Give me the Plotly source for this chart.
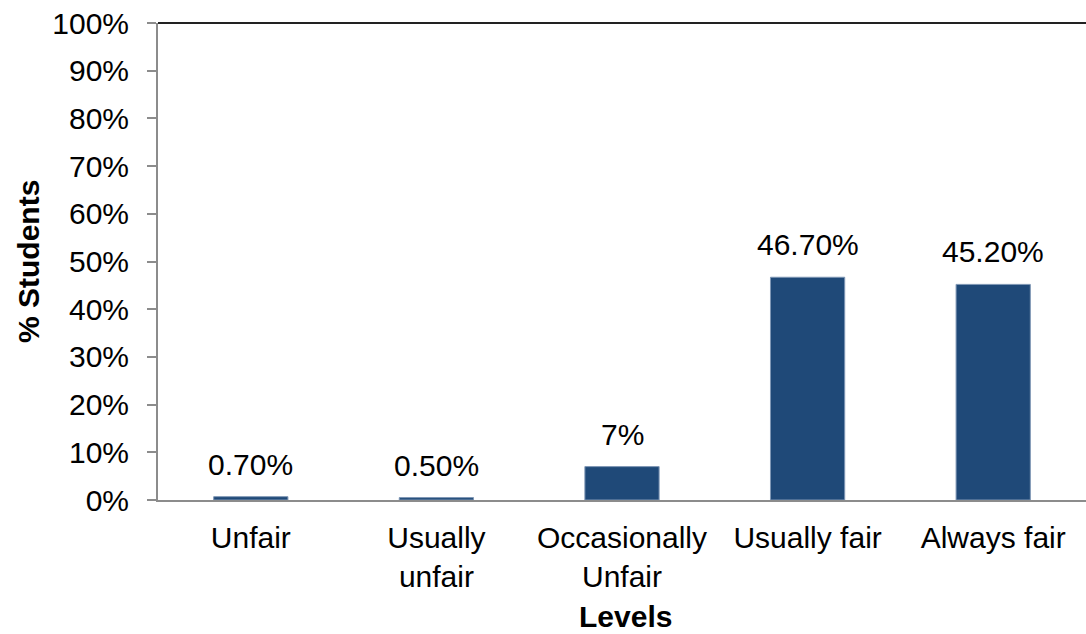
import plotly.graph_objects as go

categories = ["Unfair", "Usually<br>unfair", "Occasionally<br>Unfair", "Usually fair", "Always fair"]
values = [0.7, 0.5, 7, 46.7, 45.2]
labels = ["0.70%", "0.50%", "7%", "46.70%", "45.20%"]
tick_vals = [0, 10, 20, 30, 40, 50, 60, 70, 80, 90, 100]
tick_text = [f"{v}%" for v in tick_vals]

font = "Liberation Sans, Arial, sans-serif"
FS = 30
W, H = 1086, 634
L, T, B = 158, 23, 500
plot_w = W - L
plot_h = B - T

fig = go.Figure(go.Bar(
    x=categories, y=values,
    marker=dict(color="#1F4978", line=dict(color="#7F97B5", width=1)),
    cliponaxis=False,
))

annotations = [
    dict(x=c, y=v, text=t, xref="x", yref="y", showarrow=False,
         yanchor="bottom", yshift=14, font=dict(family=font, size=FS, color="#000"))
    for c, v, t in zip(categories, values, labels)
]
annotations += [
    dict(text="<b>% Students</b>", xref="paper", yref="paper",
         x=(28 - L) / plot_w, y=(B - 262) / plot_h, textangle=-90,
         showarrow=False, xanchor="center", yanchor="middle",
         font=dict(family=font, size=FS, color="#000")),
    dict(text="<b>Levels</b>", xref="paper", yref="paper",
         x=(625 - L) / plot_w, y=-(616 - B) / plot_h,
         showarrow=False, xanchor="center", yanchor="middle",
         font=dict(family=font, size=FS, color="#000")),
]

fig.update_layout(
    width=W, height=H,
    margin=dict(l=L, r=0, t=T, b=H - B, autoexpand=False),
    paper_bgcolor="white", plot_bgcolor="white",
    bargap=0.6, showlegend=False,
    font=dict(family=font, size=FS, color="#000"),
    shapes=[dict(type="line", xref="paper", yref="paper", x0=0, x1=1, y0=1, y1=1,
                 line=dict(color="#222", width=2))],
    annotations=annotations,
)
fig.update_yaxes(
    range=[0, 100], tickvals=tick_vals, ticktext=tick_text, automargin=False,
    showline=True, linecolor="#8c8c8c", linewidth=2,
    ticks="outside", ticklen=9, tickcolor="#8c8c8c", tickwidth=2,
    ticklabelstandoff=12,
    showgrid=False, zeroline=False,
    tickfont=dict(family=font, size=FS, color="#000"),
)
fig.update_xaxes(
    showline=True, linecolor="#8c8c8c", linewidth=2, automargin=False,
    ticks="", showgrid=False, ticklabelstandoff=10,
    tickfont=dict(family=font, size=FS, color="#000"),
)

fig.write_html(
    "out.html",
    config={"displayModeBar": False},
    post_script="document.body.style.margin='0';document.body.style.overflow='hidden';",
)
